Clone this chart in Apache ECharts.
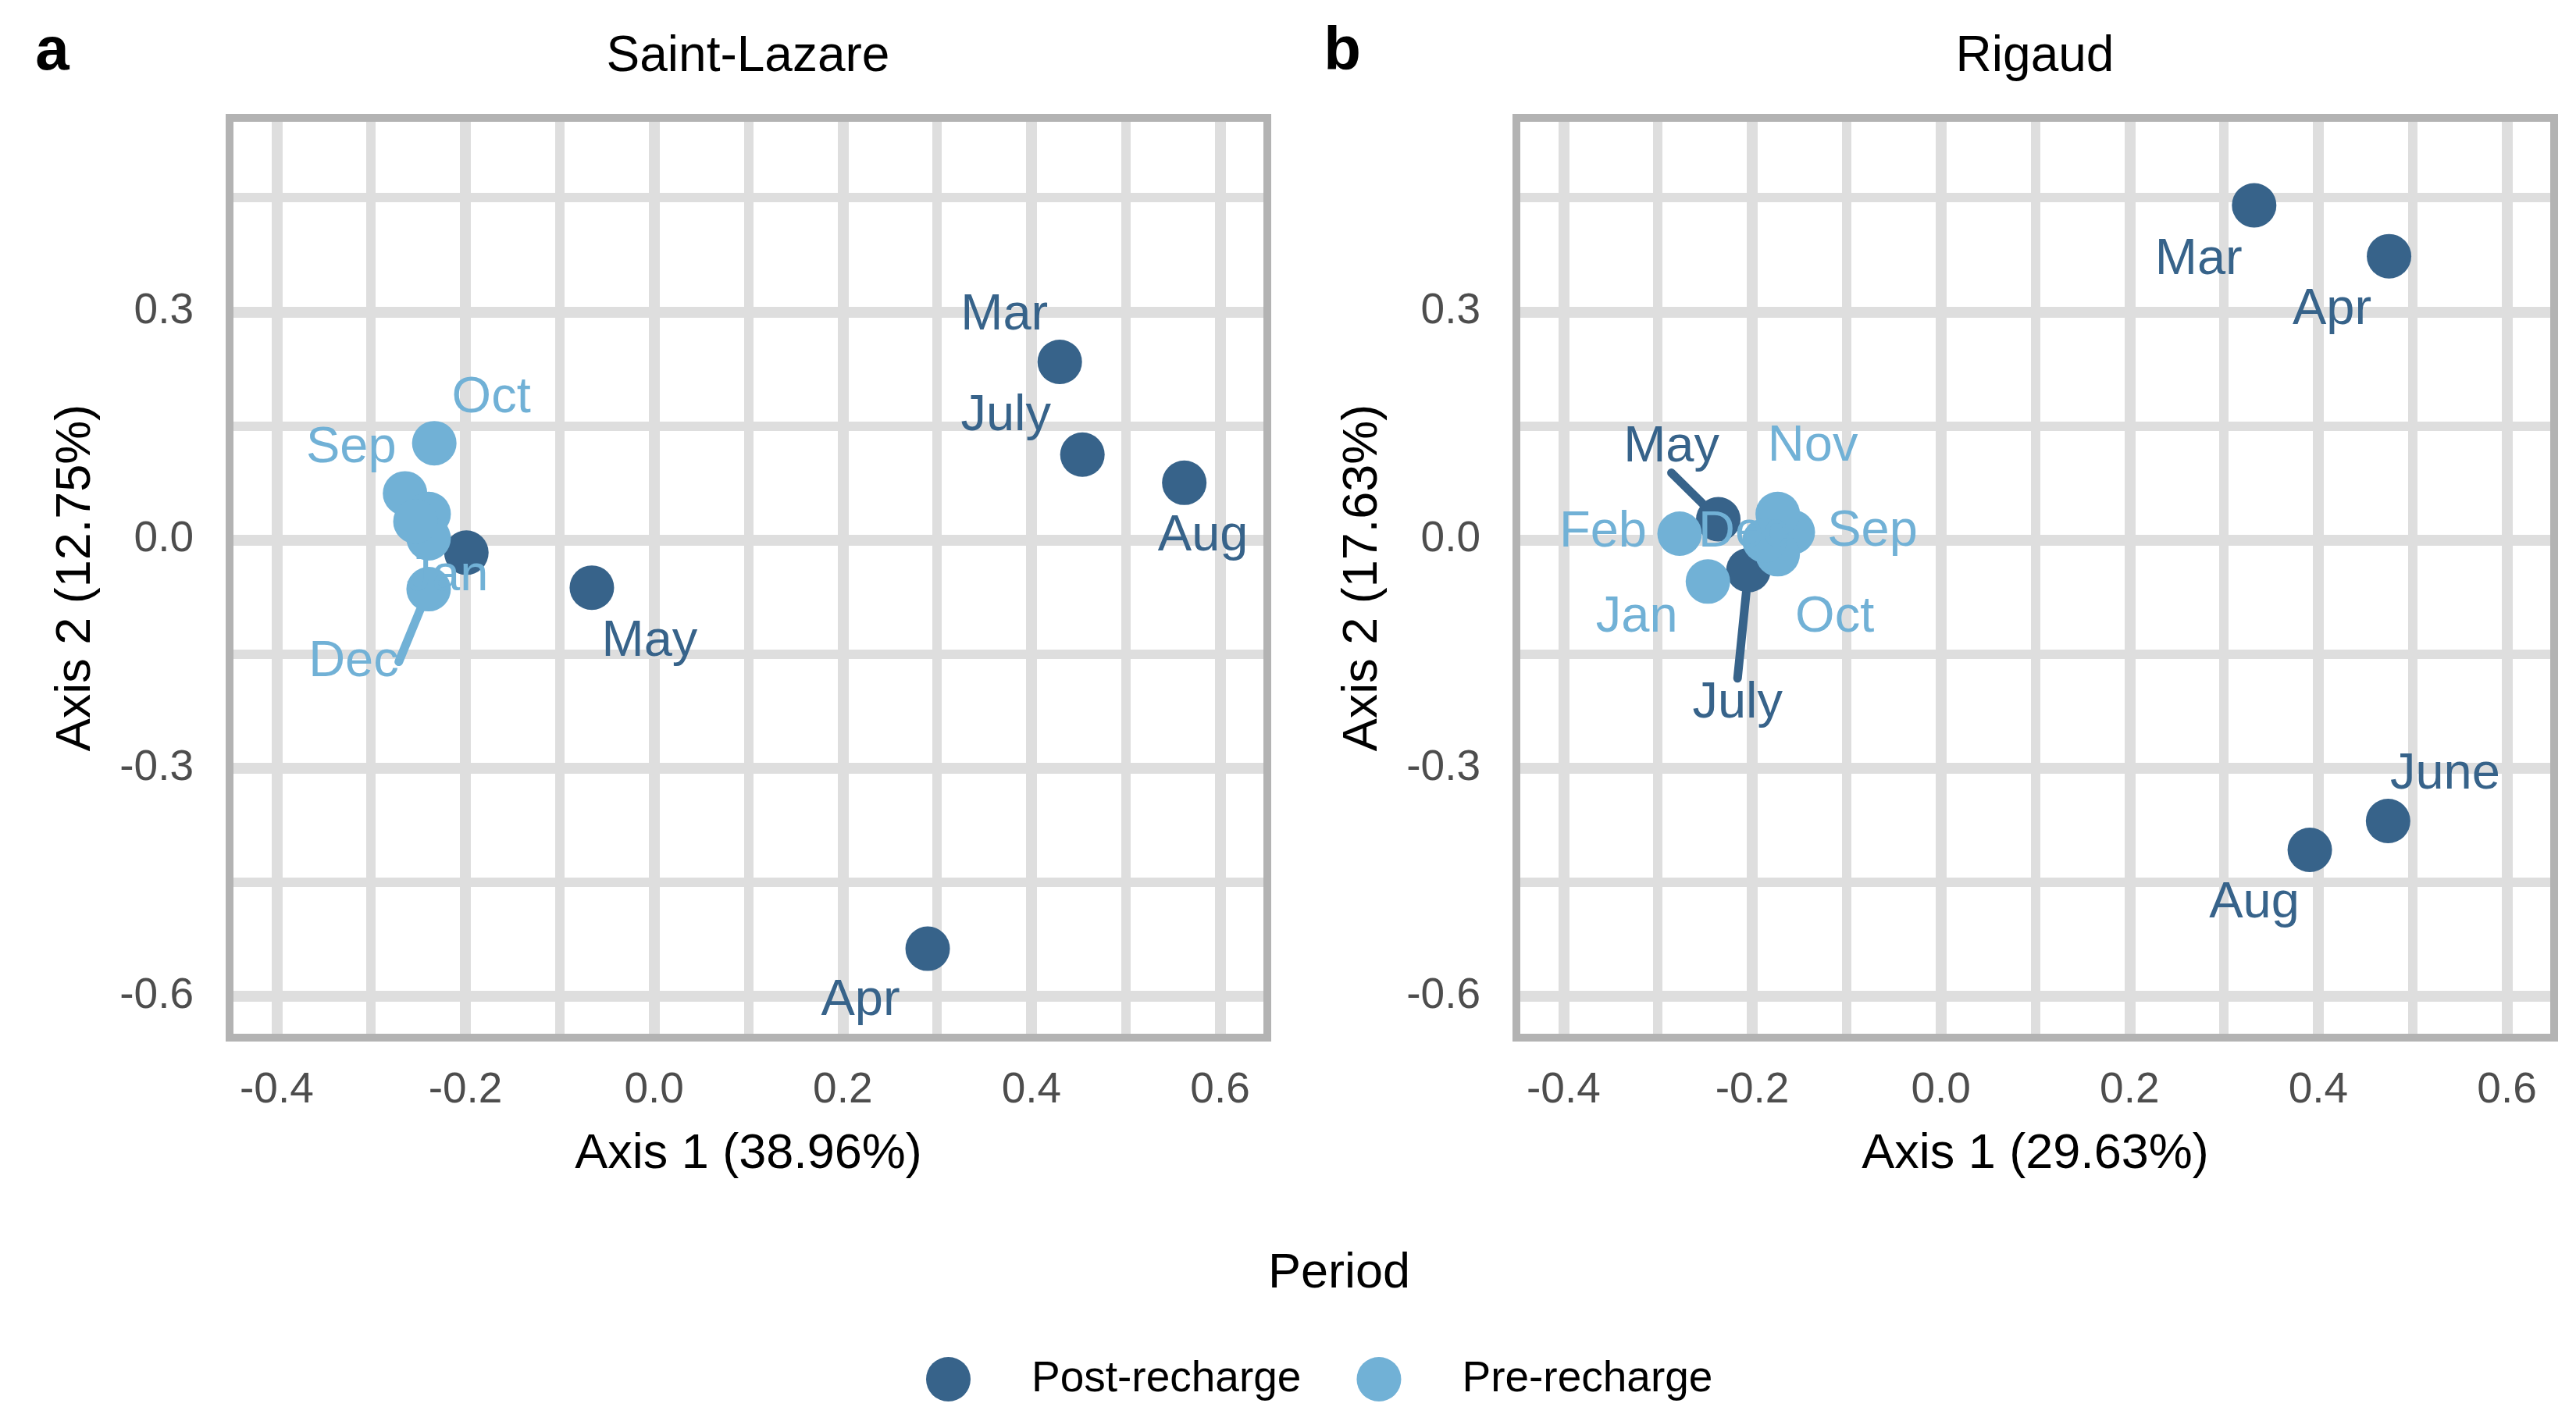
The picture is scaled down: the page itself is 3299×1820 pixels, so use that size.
<!DOCTYPE html>
<html><head><meta charset="utf-8">
<script src="https://cdn.jsdelivr.net/npm/echarts@6/dist/echarts.min.js"></script>
<style>html,body{margin:0;padding:0;background:#fff}#c{width:3299px;height:1820px}</style>
</head><body><div id="c"></div>
<script>
// ---------- data ----------
const periods = ['Post-recharge', 'Pre-recharge'];
const panelTitles = ['Saint-Lazare', 'Rigaud'];
const xTitles = ['Axis 1 (38.96%)', 'Axis 1 (29.63%)'];
const yTitles = ['Axis 2 (12.75%)', 'Axis 2 (17.63%)'];
const panelTags = ['a', 'b'];
const legendTitle = 'Period';

// Saint-Lazare
const slPostMonths = ['Mar', 'Apr', 'May', 'June', 'July', 'Aug'];
const slPostAxis1 = [0.430, 0.290, -0.066, -0.199, 0.454, 0.562];
const slPostAxis2 = [0.234, -0.538, -0.063, -0.017, 0.112, 0.075];
const slPreMonths = ['Sep', 'Oct', 'Nov', 'Dec', 'Jan', 'Feb'];
const slPreAxis1 = [-0.264, -0.233, -0.239, -0.239, -0.239, -0.253];
const slPreAxis2 = [0.061, 0.127, 0.034, -0.065, 0.002, 0.024];

// Rigaud
const rgPostMonths = ['Mar', 'Apr', 'May', 'June', 'July', 'Aug'];
const rgPostAxis1 = [0.332, 0.475, -0.236, 0.474, -0.204, 0.391];
const rgPostAxis2 = [0.440, 0.373, 0.027, -0.370, -0.040, -0.408];
const rgPreMonths = ['Sep', 'Oct', 'Nov', 'Dec', 'Jan', 'Feb'];
const rgPreAxis1 = [-0.157, -0.173, -0.173, -0.187, -0.247, -0.277];
const rgPreAxis2 = [0.010, -0.019, 0.034, -0.001, -0.055, 0.008];

const xTicks = [-0.4, -0.2, 0, 0.2, 0.4, 0.6];
const xMinor = [-0.3, -0.1, 0.1, 0.3, 0.5];
const yTicks = [-0.6, -0.3, 0, 0.3];
const yMinor = [-0.45, -0.15, 0.15, 0.45];

// ---------- style (label placement, like ggrepel) ----------
const FONT = "'Liberation Sans', Arial, Helvetica, sans-serif";
const DARK = '#37638A', LIGHT = '#71B1D6';
const labelNudge = {
  sl: { Oct: [73, -64], Sep: [-69, -64], Dec: [-96, 87], Jan: [24, 43], May: [74, 63],
        Mar: [-71, -65], July: [-98, -55], Aug: [24, 63], Apr: [-86, 61] },
  rg: { Mar: [-71, 64], Apr: [-73, 63], Aug: [-71, 63], June: [73, -65], May: [-60, -98],
        Nov: [45, -92], Feb: [-98, -7], Dec: [-27, -16], Sep: [102, -7], Oct: [73, 75],
        Jan: [-91, 40], July: [-14, 165] }
};
const leaders = { sl: ['Dec', 'Jan'], rg: ['May', 'July'] };
const BASE_DY = 6;

function mkSeries(name, months, xs, ys, color, panel, gi) {
  return {
    type: 'scatter', name, xAxisIndex: gi, yAxisIndex: gi, symbol: 'circle',
    symbolSize: 57, z: 3, animation: false,
    itemStyle: { color, opacity: 1 },
    emphasis: { disabled: true },
    data: months.map((m, i) => ({
      value: [xs[i], ys[i]], name: m,
      label: { show: !!labelNudge[panel][m] },
      labelLine: { show: leaders[panel].includes(m) }
    })),
    label: { show: true, position: 'inside', formatter: '{b}', color, fontSize: 65, fontFamily: FONT },
    labelLine: { show: false, length2: 0, lineStyle: { color, width: 11, cap: 'round' } },
    labelLayout: p => {
      const n = labelNudge[panel][months[p.dataIndex]];
      return n ? { dx: n[0], dy: n[1] + BASE_DY } : {};
    }
  };
}

function gridLines(gi) {
  const d = [];
  xTicks.forEach(v => d.push({ xAxis: v, lineStyle: { width: 14 } }));
  xMinor.forEach(v => d.push({ xAxis: v, lineStyle: { width: 12 } }));
  yTicks.forEach(v => d.push({ yAxis: v, lineStyle: { width: 14 } }));
  yMinor.forEach(v => d.push({ yAxis: v, lineStyle: { width: 12 } }));
  return {
    type: 'scatter', xAxisIndex: gi, yAxisIndex: gi, data: [], silent: true, z: 1,
    markLine: { z: 1, silent: true, animation: false, symbol: ['none', 'none'], label: { show: false },
      lineStyle: { color: '#DEDEDE', type: 'solid' }, emphasis: { disabled: true }, data: d }
  };
}

const gridLefts = [294, 1942];
const chart = echarts.init(document.getElementById('c'));
chart.setOption({
  animation: false,
  backgroundColor: '#fff',
  grid: gridLefts.map(l => ({ left: l, top: 151, width: 1329, height: 1178, show: true,
    borderColor: '#B3B3B3', borderWidth: 10, backgroundColor: 'transparent', z: 2 })),
  xAxis: [0, 1].map(i => ({
    gridIndex: i, type: 'value', min: -0.45, max: 0.65,
    name: xTitles[i], nameLocation: 'middle', nameGap: 118,
    nameTextStyle: { fontSize: 63, color: '#000', fontFamily: FONT },
    axisLine: { show: false }, splitLine: { show: false },
    axisTick: { show: true, customValues: xTicks, length: 21, lineStyle: { color: '#B3B3B3', width: 12 } },
    axisLabel: { customValues: xTicks, margin: 40, fontSize: 55, color: '#4D4D4D', fontFamily: FONT,
      formatter: v => v.toFixed(1) }
  })),
  yAxis: [0, 1].map(i => ({
    gridIndex: i, type: 'value', min: -0.655, max: 0.555,
    name: yTitles[i], nameLocation: 'middle', nameGap: 165, nameRotate: 90,
    nameTextStyle: { fontSize: 63, color: '#000', fontFamily: FONT },
    axisLine: { show: false }, splitLine: { show: false },
    axisTick: { show: true, customValues: yTicks, length: 21, lineStyle: { color: '#B3B3B3', width: 12 } },
    axisLabel: { customValues: yTicks, margin: 46, fontSize: 55, color: '#4D4D4D', fontFamily: FONT,
      padding: [8, 0, 0, 0], formatter: v => v.toFixed(1) }
  })),
  legend: {
    data: periods, left: 1186, top: 1738, orient: 'horizontal', padding: 0,
    itemWidth: 57, itemHeight: 57, itemGap: 71, icon: 'circle', selectedMode: false,
    textStyle: { fontSize: 55, color: '#000', fontFamily: FONT, padding: [0, 0, 0, 73] }
  },
  graphic: [
    { type: 'text', x: 958, y: 73, style: { text: panelTitles[0], font: `64px ${FONT}`, fill: '#000', align: 'center', verticalAlign: 'middle' } },
    { type: 'text', x: 2606, y: 73, style: { text: panelTitles[1], font: `64px ${FONT}`, fill: '#000', align: 'center', verticalAlign: 'middle' } },
    { type: 'text', x: 67, y: 67, style: { text: panelTags[0], font: `bold 78px ${FONT}`, fill: '#000', align: 'center', verticalAlign: 'middle' } },
    { type: 'text', x: 1719, y: 67, style: { text: panelTags[1], font: `bold 78px ${FONT}`, fill: '#000', align: 'center', verticalAlign: 'middle' } },
    { type: 'text', x: 1715, y: 1632, style: { text: legendTitle, font: `63px ${FONT}`, fill: '#000', align: 'center', verticalAlign: 'middle' } }
  ],
  series: [
    gridLines(0), gridLines(1),
    mkSeries(periods[0], slPostMonths, slPostAxis1, slPostAxis2, DARK, 'sl', 0),
    mkSeries(periods[1], slPreMonths, slPreAxis1, slPreAxis2, LIGHT, 'sl', 0),
    mkSeries(periods[0], rgPostMonths, rgPostAxis1, rgPostAxis2, DARK, 'rg', 1),
    mkSeries(periods[1], rgPreMonths, rgPreAxis1, rgPreAxis2, LIGHT, 'rg', 1)
  ]
});
</script></body></html>
